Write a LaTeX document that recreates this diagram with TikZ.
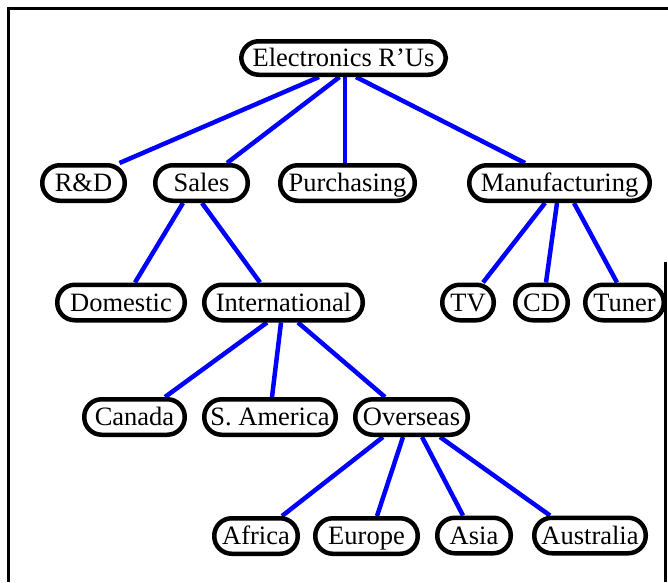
\documentclass[tikz,border=0pt]{standalone}
\usepackage{fontspec}
\setmainfont{Liberation Serif}
\usetikzlibrary{backgrounds}
\tikzset{
  unit/.style={draw=black, line width=4.5pt, fill=white, rounded corners=17.5pt,
    minimum height=35.5pt, inner sep=0pt, text height=20pt, text depth=3pt,
    font=\fontsize{26.5}{30}\selectfont},
  link/.style={draw=blue, line width=4.5pt},
  frame/.style={draw=black, line width=3pt}
}
\begin{document}
\begin{tikzpicture}[x=1pt, y=-1pt]
  \useasboundingbox (0,0) rectangle (668,582);

  % organisation units
  \node[unit, minimum width=204.5pt, minimum height=33.5pt] (root) at (343.5,58) {Electronics R'Us};

  \node[unit, minimum width=82.5pt]  (rd)    at (83.5,183)  {R\&D};
  \node[unit, minimum width=92.5pt]  (sales) at (201.5,183) {Sales};
  \node[unit, minimum width=134.5pt] (purch) at (347.5,183) {Purchasing};
  \node[unit, minimum width=180.5pt] (manu)  at (559.5,183) {Manufacturing};

  \node[unit, minimum width=127.5pt] (dom)   at (121,302.5)   {Domestic};
  \node[unit, minimum width=158.5pt] (intl)  at (283.5,302.5) {International};
  \node[unit, minimum width=51.5pt]  (tv)    at (468,302.5)   {TV};
  \node[unit, minimum width=52.5pt]  (cd)    at (541.5,302.5) {CD};
  \node[unit, minimum width=78.5pt]  (tuner) at (624.5,302.5) {Tuner};

  \node[unit, minimum width=100.5pt] (can)   at (134.5,417) {Canada};
  \node[unit, minimum width=131.5pt] (sam)   at (270,417)   {S. America};
  \node[unit, minimum width=112.5pt] (ovs)   at (411.5,417) {Overseas};

  \node[unit, minimum width=83.5pt]  (afr)   at (256,536)   {Africa};
  \node[unit, minimum width=102.5pt] (eur)   at (366.5,536) {Europe};
  \node[unit, minimum width=73.5pt]  (asia)  at (474,535.5) {Asia};
  \node[unit, minimum width=111.5pt] (aus)   at (590,535.5) {Australia};

  % reporting lines, behind the units
  \begin{scope}[on background layer]
    \draw[link] ([xshift=-24.5pt]root.south) -- ([xshift=36pt]rd.north);
    \draw[link] ([xshift=-4pt]root.south)    -- ([xshift=25.5pt]sales.north);
    \draw[link] ([xshift=1.5pt]root.south)   -- ([xshift=-2.5pt]purch.north);
    \draw[link] ([xshift=12.5pt]root.south)  -- ([xshift=-34.5pt]manu.north);

    \draw[link] ([xshift=-14.5pt]manu.south) -- ([xshift=15pt]tv.north);
    \draw[link] ([xshift=-2.5pt]manu.south)  -- ([xshift=4.5pt]cd.north);
    \draw[link] ([xshift=14.5pt]manu.south)  -- ([xshift=-7.5pt]tuner.north);

    \draw[link] ([xshift=-18.5pt]sales.south) -- ([xshift=14pt]dom.north);
    \draw[link] ([xshift=0.5pt]sales.south)   -- ([xshift=-23.5pt]intl.north);

    \draw[link] ([xshift=-16.5pt]intl.south) -- ([xshift=30.5pt]can.north);
    \draw[link] ([xshift=-2.5pt]intl.south)  -- ([xshift=2pt]sam.north);
    \draw[link] ([xshift=14.5pt]intl.south)  -- ([xshift=-26.5pt]ovs.north);

    \draw[link] ([xshift=-28.5pt]ovs.south) -- ([xshift=26pt]afr.north);
    \draw[link] ([xshift=-8.5pt]ovs.south)  -- ([xshift=10.5pt]eur.north);
    \draw[link] ([xshift=10.5pt]ovs.south)  -- ([xshift=-11pt]asia.north);
    \draw[link] ([xshift=28.5pt]ovs.south)  -- ([xshift=-40pt]aus.north);
  \end{scope}

  % outer frame
  \draw[frame] (8,582) -- (8,8) -- (668,8);
  \draw[frame] (665.5,262) -- (665.5,582);
\end{tikzpicture}
\end{document}
